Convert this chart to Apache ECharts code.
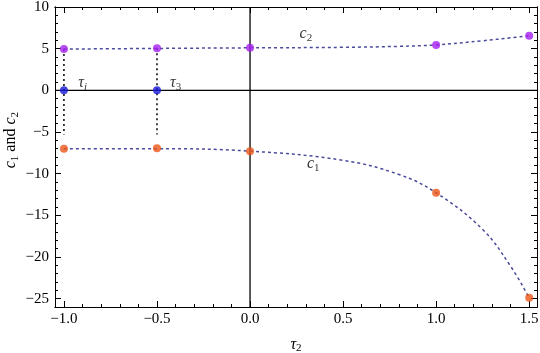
<!DOCTYPE html>
<html><head><meta charset="utf-8">
<script src="https://cdn.jsdelivr.net/npm/echarts@6/dist/echarts.min.js"></script>
<style>html,body{margin:0;padding:0;background:#fff}#c{width:540px;height:353px}</style>
</head><body><div id="c"></div>
<script>
// Marked points
const xs = [-1, -0.5, 0, 1, 1.5];
const c1Points = [-7.0, -6.95, -7.3, -12.3, -24.9];
const c2Points = [4.95, 5.05, 5.1, 5.45, 6.55];
// Dashed curves
const curveX = [-1, -0.5, 0, 0.5, 0.8, 1.0, 1.25, 1.4, 1.5];
const c1Curve = [-7.0, -7.0, -7.3, -8.4, -10.1, -12.3, -16.7, -21.1, -24.9];
const c2Curve = [4.95, 5.03, 5.1, 5.16, 5.28, 5.45, 5.95, 6.3, 6.55];
// tau points on the axis
const tauX = [-1, -0.5];
const tauY = [0, 0];
// tick values
const xMajor = [-1, -0.5, 0, 0.5, 1, 1.5];
const xMinor = [-1,-0.9,-0.8,-0.7,-0.6,-0.5,-0.4,-0.3,-0.2,-0.1,0,0.1,0.2,0.3,0.4,0.5,0.6,0.7,0.8,0.9,1,1.1,1.2,1.3,1.4,1.5];
const yMajor = [-25, -20, -15, -10, -5, 0, 5, 10];
const yMinor = [];
for (let v = -26; v <= 10; v++) yMinor.push(v);

const serif = '"Liberation Serif", "DejaVu Serif", serif';
const XMIN = -1.048, XMAX = 1.542, YMIN = -26, YMAX = 10;
const fmtNum = v => (v < 0 ? '\u2212' : '') + Math.abs(v);
const fmtX = v => (v < 0 ? '\u2212' : '') + Math.abs(v).toFixed(1);

function xAx(pos, values, len, labels) {
  return {type:'value', position:pos, min:XMIN, max:XMAX,
    axisLine:{show:true, onZero:false, lineStyle:{color:'#000', width:1}},
    axisTick:{show:true, inside:true, length:len, customValues:values, lineStyle:{color:'#000'}},
    axisLabel:{show:labels, customValues:values, formatter:fmtX, fontFamily:serif, fontSize:15, color:'#000', margin:5},
    splitLine:{show:false}};
}
function yAx(pos, values, len, labels) {
  return {type:'value', position:pos, min:YMIN, max:YMAX,
    axisLine:{show:true, onZero:false, lineStyle:{color:'#000', width:1}},
    axisTick:{show:true, inside:true, length:len, customValues:values, lineStyle:{color:'#000'}},
    axisLabel:{show:labels, customValues:values, formatter:fmtNum, fontFamily:serif, fontSize:15, color:'#000', margin:6},
    splitLine:{show:false}};
}

const chart = echarts.init(document.getElementById('c'));
const rich = {
  i:{fontFamily:serif, fontStyle:'italic', fontSize:16, color:'#000'},
  s:{fontFamily:serif, fontSize:11, color:'#000', padding:[8,0,0,0]},
  si:{fontFamily:serif, fontStyle:'italic', fontSize:11, color:'#000', padding:[8,0,0,0]}
};
const labelsData = [
  {value:[0.3, 6.8], t:'{i|c}{s|2}'},
  {value:[0.34, -8.8], t:'{i|c}{s|1}'},
  {value:[-0.9, 0.9], t:'{i|τ}{si|i}'},
  {value:[-0.4, 0.9], t:'{i|τ}{s|3}'}
];
const dashColor = '#4b4b9c';

chart.setOption({
  animation:false,
  grid:{left:55, right:3, top:7, bottom:46, outerBoundsMode:'none', containLabel:false},
  xAxis:[
    Object.assign(xAx('bottom', xMajor, 6, true), {name:'{i|τ}{s|2}', nameLocation:'middle', nameGap:28,
      nameTextStyle:{rich:rich}}),
    xAx('bottom', xMinor, 3, false),
    xAx('top', xMajor, 6, false),
    xAx('top', xMinor, 3, false)
  ],
  yAxis:[
    yAx('left', yMajor, 6, true),
    yAx('left', yMinor, 3, false),
    yAx('right', yMajor, 6, false),
    yAx('right', yMinor, 3, false)
  ],
  graphic:[{type:'text', left:3, top:112, rotation:Math.PI/2, originX:0, originY:0,
    style:{text:'{i|c}{s|1}{n| and }{i|c}{s|2}', x:0, y:0,
      rich:{i:rich.i, s:rich.s, n:{fontFamily:serif, fontSize:16, color:'#000'}}},
    }],
  series:[
    {type:'line', data:[[XMIN,0],[XMAX,0]], symbol:'none', silent:true, lineStyle:{color:'#000', width:1.3}, z:1},
    {type:'line', data:[[0,YMIN],[0,YMAX]], symbol:'none', silent:true, lineStyle:{color:'#000', width:1.3}, z:1},
    {type:'line', data:[[tauX[0], c2Points[0]], [tauX[0], -5.3]], symbol:'none', lineStyle:{color:'#000', width:1.5, type:[2,3]}, z:2},
    {type:'line', data:[[tauX[1], c2Points[1]], [tauX[1], -5.3]], symbol:'none', lineStyle:{color:'#000', width:1.5, type:[2,3]}, z:2},
    {type:'line', data:curveX.map((x,i)=>[x,c1Curve[i]]), smooth:0.4, symbol:'none', lineStyle:{color:dashColor, width:1.5, type:[3,3]}, z:3},
    {type:'line', data:curveX.map((x,i)=>[x,c2Curve[i]]), smooth:0.4, symbol:'none', lineStyle:{color:dashColor, width:1.5, type:[3,3]}, z:3},
    {type:'scatter', data:xs.map((x,i)=>[x,c1Points[i]]), symbolSize:8, itemStyle:{color:'#ec5518'}, z:5},
    {type:'scatter', data:xs.map((x,i)=>[x,c2Points[i]]), symbolSize:8, itemStyle:{color:'#a51ff0'}, z:5},
    {type:'scatter', data:tauX.map((x,i)=>[x,tauY[i]]), symbolSize:8, itemStyle:{color:'#1818d8'}, z:5},
    {type:'scatter', data:labelsData.map(d=>({value:d.value, label:{formatter:d.t}})), symbolSize:0,
      label:{show:true, position:'inside', rich:rich}, z:6}
  ]
});
</script></body></html>
